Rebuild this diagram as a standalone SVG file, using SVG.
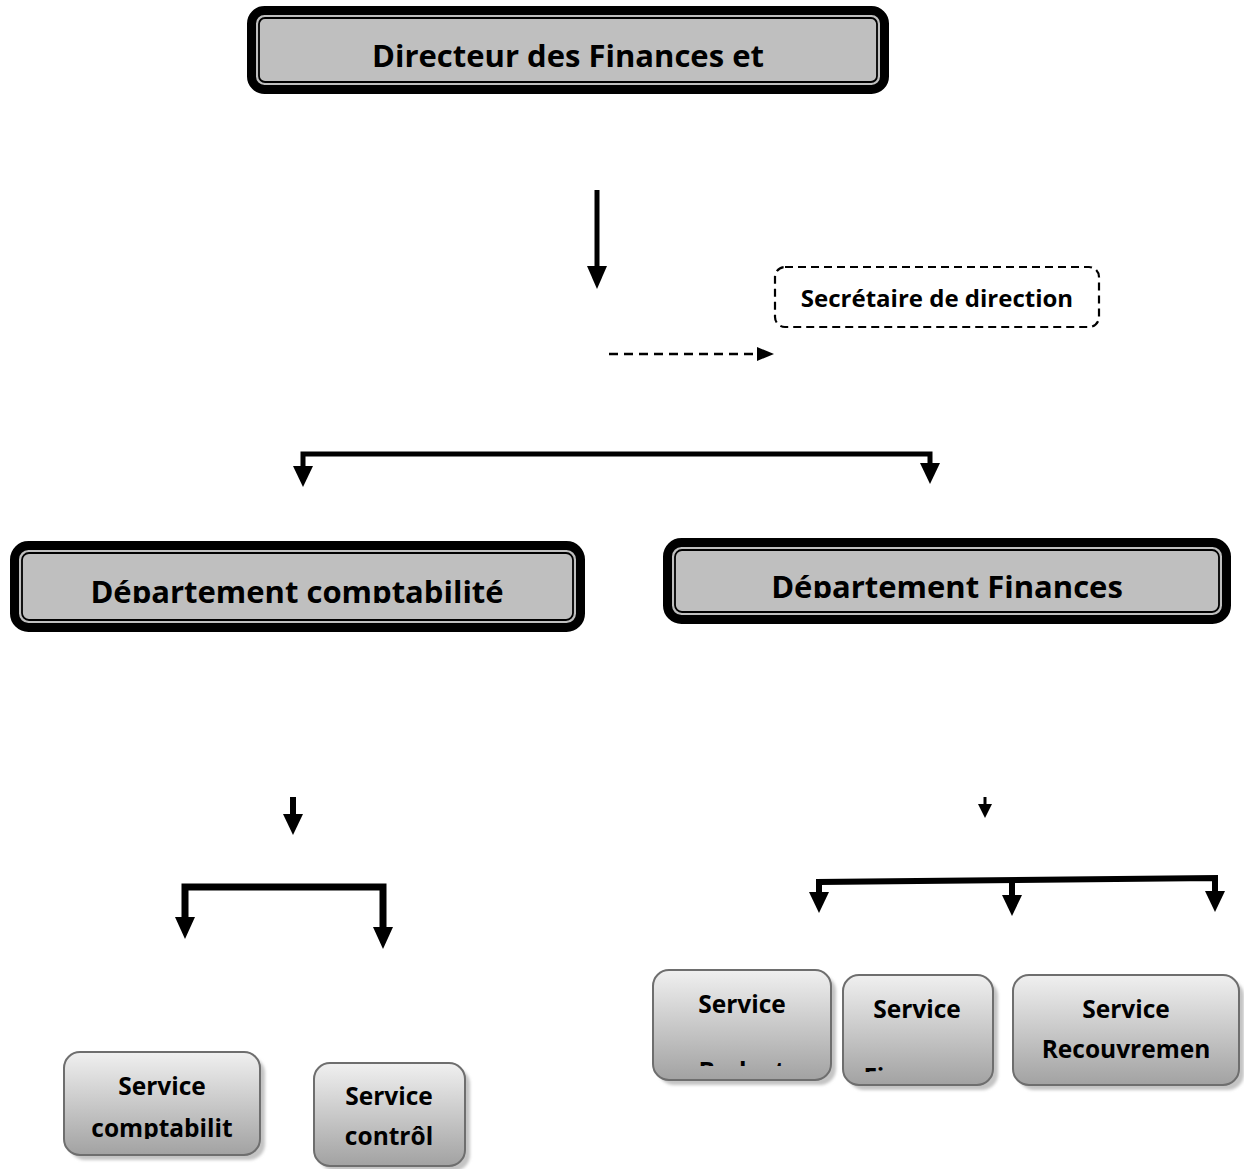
<svg xmlns="http://www.w3.org/2000/svg" width="1244" height="1169" viewBox="0 0 1244 1169">
  <style>
    .lbl { font-family: "Open Sans", "Liberation Sans", sans-serif; font-weight: bold; fill: #000; text-anchor: middle; }
    .big { font-size: 31px; }
    .mid { font-size: 24px; }
    .svc { font-size: 24.5px; }
    .outer { fill: #bfbfbf; stroke: #000; stroke-width: 9; }
    .inner { fill: #bfbfbf; stroke: #000; stroke-width: 1.8; }
    .box { fill: url(#svcGrad); stroke: #6e6e6e; stroke-width: 2; }
    .shadow { fill: #c4c4c4; filter: url(#soft); }
    .ln { fill: none; stroke: #000; stroke-linejoin: miter; }
    .head { fill: #000; }
  </style>
  <defs>
    <linearGradient id="svcGrad" x1="0" y1="0" x2="0" y2="1">
      <stop offset="0" stop-color="#f0f0f0"/>
      <stop offset="1" stop-color="#a2a2a2"/>
    </linearGradient>
    <filter id="soft" x="-10%" y="-10%" width="120%" height="120%">
      <feGaussianBlur stdDeviation="1.5"/>
    </filter>
    <clipPath id="clipTop"><rect x="250" y="10" width="640" height="62"/></clipPath>
    <clipPath id="clipDeptL"><rect x="20" y="550" width="560" height="53"/></clipPath>
    <clipPath id="clipDeptR"><rect x="670" y="545" width="555" height="53"/></clipPath>
    <clipPath id="clipB1"><rect x="70" y="1060" width="186" height="79"/></clipPath>
    <clipPath id="clipB3"><rect x="660" y="975" width="165" height="91"/></clipPath>
    <clipPath id="clipB4"><rect x="848" y="980" width="140" height="92"/></clipPath>
  </defs>

  <!-- top: director -->
  <g id="directeur">
    <rect class="outer" x="251.5" y="10.5" width="633" height="79" rx="13"/>
    <rect class="inner" x="259" y="18" width="618" height="64" rx="6"/>
    <text class="lbl big" x="568" y="67" clip-path="url(#clipTop)">Directeur des Finances et</text>
  </g>

  <!-- secretary (dashed) -->
  <g id="secretaire">
    <rect x="775" y="267" width="324" height="60" rx="10" fill="none" stroke="#000" stroke-width="2.2" stroke-dasharray="8,5"/>
    <text class="lbl mid" x="937" y="307">Secrétaire de direction</text>
  </g>

  <!-- departments -->
  <g id="dept-comptabilite">
    <rect class="outer" x="14.5" y="545.5" width="566" height="82" rx="14"/>
    <rect class="inner" x="22" y="553" width="551" height="67" rx="7"/>
    <text class="lbl big" x="297" y="603" clip-path="url(#clipDeptL)">Département comptabilité</text>
  </g>
  <g id="dept-finances">
    <rect class="outer" x="667.5" y="542.5" width="559" height="77" rx="14"/>
    <rect class="inner" x="675" y="550" width="544" height="62" rx="7"/>
    <text class="lbl big" x="947" y="598" clip-path="url(#clipDeptR)">Département Finances</text>
  </g>

  <!-- services -->
  <g id="svc-comptabilite">
    <rect class="shadow" x="69" y="1057" width="196" height="103" rx="16"/>
    <rect class="box" x="64" y="1052" width="196" height="103" rx="16"/>
    <text class="lbl svc" x="162" y="1095">Service</text>
    <text class="lbl svc" x="162" y="1137" clip-path="url(#clipB1)">comptabilit</text>
  </g>
  <g id="svc-controle">
    <rect class="shadow" x="319" y="1068" width="151" height="103" rx="16"/>
    <rect class="box" x="314" y="1063" width="151" height="103" rx="16"/>
    <text class="lbl svc" x="389" y="1105">Service</text>
    <text class="lbl svc" x="389" y="1145">contrôl</text>
  </g>
  <g id="svc-budget">
    <rect class="shadow" x="658" y="975" width="178" height="110" rx="16"/>
    <rect class="box" x="653" y="970" width="178" height="110" rx="16"/>
    <text class="lbl svc" x="742" y="1013">Service</text>
    <text class="lbl svc" x="742" y="1080" clip-path="url(#clipB3)">Budget</text>
  </g>
  <g id="svc-finances">
    <rect class="shadow" x="848" y="980" width="150" height="110" rx="16"/>
    <rect class="box" x="843" y="975" width="150" height="110" rx="16"/>
    <text class="lbl svc" x="917" y="1018">Service</text>
    <text class="lbl svc" x="917" y="1086" clip-path="url(#clipB4)">Finances</text>
  </g>
  <g id="svc-recouvrement">
    <rect class="shadow" x="1018" y="980" width="226" height="110" rx="16"/>
    <rect class="box" x="1013" y="975" width="226" height="110" rx="16"/>
    <text class="lbl svc" x="1126" y="1018">Service</text>
    <text class="lbl svc" x="1126" y="1058">Recouvremen</text>
  </g>

  <!-- connectors -->
  <g id="connectors">
    <!-- director down -->
    <line class="ln" x1="597" y1="190" x2="597" y2="268" stroke-width="5"/>
    <polygon class="head" points="587,266 607,266 597,289"/>
    <!-- to secretary -->
    <line class="ln" x1="609" y1="354" x2="758" y2="354" stroke-width="2.5" stroke-dasharray="9,6"/>
    <polygon class="head" points="757,347 757,361 774,354"/>
    <!-- split to departments -->
    <path class="ln" d="M303,468 V454 H930 V465" stroke-width="5"/>
    <polygon class="head" points="293,466 313,466 303,487"/>
    <polygon class="head" points="920,463 940,463 930,484"/>
    <!-- accounting branch -->
    <line class="ln" x1="293" y1="797" x2="293" y2="816" stroke-width="6"/>
    <polygon class="head" points="283,814 303,814 293,835"/>
    <path class="ln" d="M185,919 V887 H383 V929" stroke-width="7"/>
    <polygon class="head" points="175,917 195,917 185,939"/>
    <polygon class="head" points="373,927 393,927 383,949"/>
    <!-- finance branch -->
    <line class="ln" x1="985" y1="797" x2="985" y2="806" stroke-width="3"/>
    <polygon class="head" points="978,804 992,804 985,818"/>
    <path class="ln" d="M819,894 V882 L1215,878 V893" stroke-width="6"/>
    <line class="ln" x1="1012" y1="880" x2="1012" y2="897" stroke-width="6"/>
    <polygon class="head" points="809,892 829,892 819,913"/>
    <polygon class="head" points="1002,895 1022,895 1012,916"/>
    <polygon class="head" points="1205,891 1225,891 1215,912"/>
  </g>
</svg>
